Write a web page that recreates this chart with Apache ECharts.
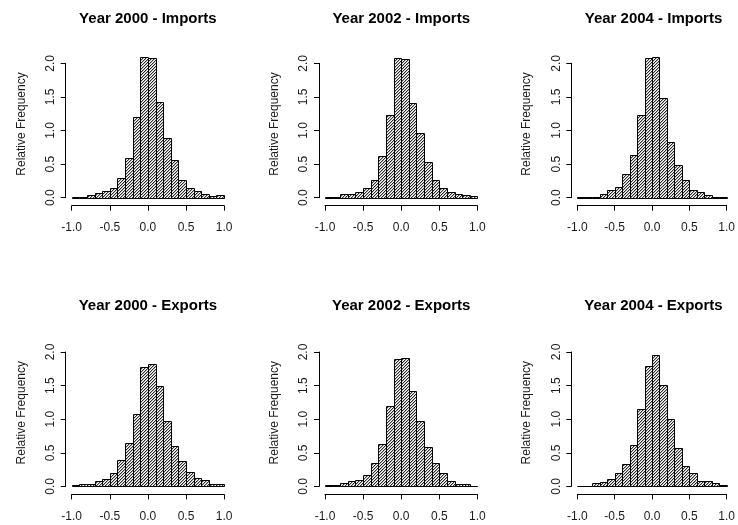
<!DOCTYPE html>
<html>
<head>
<meta charset="utf-8">
<script src="https://cdn.jsdelivr.net/npm/echarts@6/dist/echarts.min.js"></script>
<style>
  html, body { margin: 0; padding: 0; background: #ffffff; }
  #chart { width: 738px; height: 525px; }
</style>
</head>
<body>
<div id="chart"></div>
<script>
// Histogram bin edges: 20 bins of width 0.1 on [-1, 1]
const breaks = [-1.0, -0.9, -0.8, -0.7, -0.6, -0.5, -0.4, -0.3, -0.2, -0.1, 0.0,
                0.1, 0.2, 0.3, 0.4, 0.5, 0.6, 0.7, 0.8, 0.9, 1.0];

// Relative frequency (density) per bin
const imports2000 = [0.015, 0.015, 0.035, 0.07, 0.095, 0.145, 0.30, 0.585, 1.20, 2.10,
                     2.085, 1.42, 0.895, 0.555, 0.27, 0.14, 0.105, 0.05, 0.02, 0.035];
const imports2002 = [0.01, 0.01, 0.05, 0.05, 0.09, 0.14, 0.27, 0.62, 1.225, 2.075,
                     2.06, 1.405, 0.96, 0.525, 0.27, 0.14, 0.08, 0.055, 0.04, 0.02];
const imports2004 = [0.015, 0.015, 0.015, 0.05, 0.115, 0.155, 0.35, 0.635, 1.225, 2.075,
                     2.10, 1.48, 0.835, 0.49, 0.27, 0.115, 0.08, 0.04, 0.015, 0.015];
const exports2000 = [0.015, 0.03, 0.03, 0.075, 0.105, 0.195, 0.39, 0.64, 1.07, 1.78,
                     1.815, 1.49, 0.975, 0.60, 0.375, 0.21, 0.13, 0.09, 0.03, 0.03];
const exports2002 = [0.015, 0.015, 0.045, 0.075, 0.09, 0.165, 0.35, 0.625, 1.195, 1.89,
                     1.915, 1.415, 0.975, 0.585, 0.355, 0.20, 0.085, 0.04, 0.03, 0.01];
const exports2004 = [0.01, 0.01, 0.045, 0.07, 0.105, 0.195, 0.335, 0.61, 1.145, 1.795,
                     1.96, 1.505, 1.00, 0.575, 0.31, 0.195, 0.085, 0.075, 0.045, 0.015];

const panelTitles = ['Year 2000 - Imports', 'Year 2002 - Imports', 'Year 2004 - Imports',
                     'Year 2000 - Exports', 'Year 2002 - Exports', 'Year 2004 - Exports'];
const panelSeries = [imports2000, imports2002, imports2004, exports2000, exports2002, exports2004];
const yAxisTitle = 'Relative Frequency';

// Axis ranges and ticks
const xMin = -1.0, xMax = 1.0, xStep = 0.5;
const yMin = 0.0, yMax = 2.0, yStep = 0.5;

// Panel layout (pixels): plot-area left/width per column, top/height per row
const colLeft = [71.7, 325.0, 577.3];
const colWidth = 152.4;
const rowTop = [63.3, 352.0];
const rowHeight = 134.4;
const rowTitleY = [18.3, 305.3];

const FONT = "'Liberation Sans', Arial, Helvetica, sans-serif";

// Diagonal "/" hatching tile, with a soft neighbour diagonal
function makeHatch() {
  const c = document.createElement('canvas');
  c.width = 3; c.height = 3;
  const g = c.getContext('2d');
  g.fillStyle = '#ffffff';
  g.fillRect(0, 0, 3, 3);
  g.fillStyle = '#2e2e2e';
  for (let i = 0; i < 3; i++) g.fillRect(i, 2 - i, 1, 1);
  g.fillStyle = '#b4b4b4';
  for (let i = 0; i < 3; i++) g.fillRect(i, (3 - i) % 3, 1, 1);
  return c;
}
const hatch = { image: makeHatch(), repeat: 'repeat' };

function renderBar(params, api) {
  const x0 = api.value(0), x1 = api.value(1), h = api.value(2);
  const pBase = api.coord([x0, 0]);
  const pTop = api.coord([x1, h]);
  const left = Math.round(pBase[0]) + 0.5;
  const right = Math.round(pTop[0]) + 0.5;
  const bottom = Math.round(pBase[1]) + 0.5;
  const top = Math.round(pTop[1]) + 0.5;
  return {
    type: 'rect',
    shape: { x: left, y: top, width: right - left, height: bottom - top },
    style: { fill: hatch, stroke: '#000000', lineWidth: 1 }
  };
}

const grids = [], xAxes = [], yAxes = [], series = [], titles = [], graphics = [];

panelSeries.forEach((vals, i) => {
  const row = Math.floor(i / 3), col = i % 3;
  const left = colLeft[col], top = rowTop[row];
  grids.push({ left: left, top: top, width: colWidth, height: rowHeight, containLabel: false });

  xAxes.push({
    gridIndex: i, type: 'value', min: xMin, max: xMax, interval: xStep,
    offset: 8,
    axisLine: { show: true, onZero: false, lineStyle: { color: '#000', width: 1 } },
    axisTick: { show: true, length: 5, lineStyle: { color: '#000', width: 1 } },
    axisLabel: { show: true, margin: 16, fontSize: 12, color: '#1a1a1a', fontFamily: FONT,
                 formatter: v => v.toFixed(1) },
    splitLine: { show: false }
  });

  yAxes.push({
    gridIndex: i, type: 'value', min: yMin, max: yMax, interval: yStep,
    offset: 6,
    axisLine: { show: true, onZero: false, lineStyle: { color: '#000', width: 1 } },
    axisTick: { show: true, length: 5, lineStyle: { color: '#000', width: 1 } },
    axisLabel: { show: true, rotate: 90, margin: 9, fontSize: 12, color: '#1a1a1a', fontFamily: FONT,
                 formatter: v => v.toFixed(1) },
    splitLine: { show: false }
  });

  const data = vals.map((h, k) => [breaks[k], breaks[k + 1], h]);
  series.push({
    type: 'custom', xAxisIndex: i, yAxisIndex: i, clip: false,
    renderItem: renderBar, encode: { x: [0, 1], y: 2 }, data: data, silent: true
  });

  titles.push({
    text: panelTitles[i], left: left + colWidth / 2, top: rowTitleY[row] - 7,
    textAlign: 'center', padding: 0,
    textStyle: { fontSize: 15, fontWeight: 'bold', color: '#000', fontFamily: FONT }
  });

  graphics.push({
    type: 'text', x: left - 50.5, y: top + rowHeight / 2 - 6.5, rotation: Math.PI / 2,
    style: { text: yAxisTitle, fontSize: 12, fill: '#1a1a1a', fontFamily: FONT,
             align: 'center', verticalAlign: 'middle' }
  });
});

const chart = echarts.init(document.getElementById('chart'), null, { renderer: 'canvas' });
chart.setOption({
  backgroundColor: '#ffffff',
  animation: false,
  title: titles,
  grid: grids,
  xAxis: xAxes,
  yAxis: yAxes,
  series: series,
  graphic: graphics
});
</script>
</body>
</html>
